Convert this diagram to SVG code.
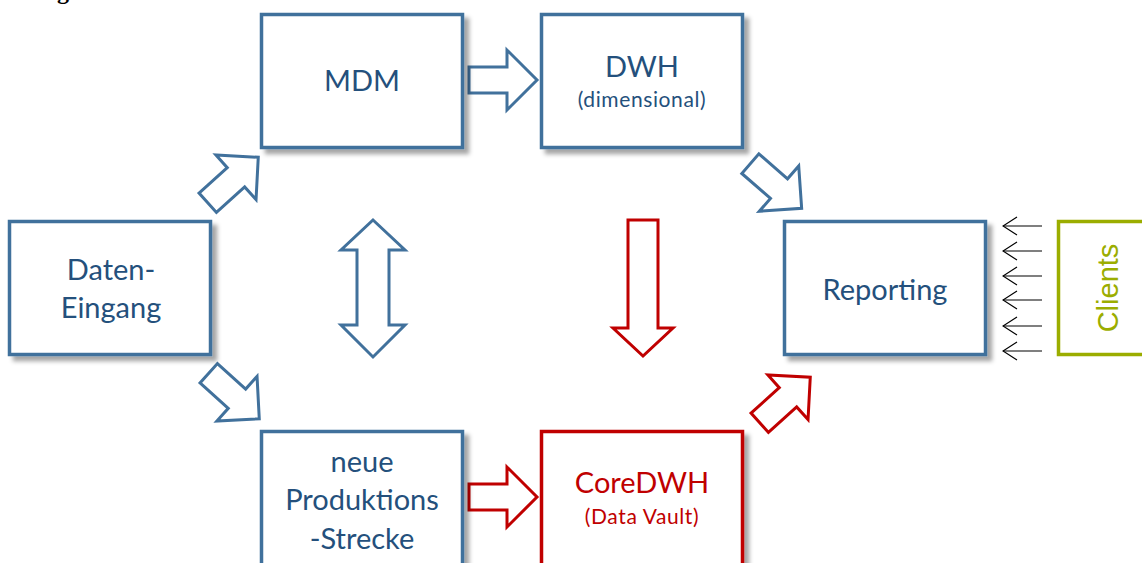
<svg xmlns="http://www.w3.org/2000/svg" width="1142" height="563" viewBox="0 0 1142 563">
  <defs>
    <filter id="shadow" x="-10%" y="-10%" width="130%" height="130%">
      <feDropShadow dx="5" dy="5" stdDeviation="2" flood-color="#000" flood-opacity="0.35"/>
    </filter>
    <path id="blockArrow" d="M-34,-13 H4 V-30 L34,0 L4,30 V13 H-34 Z"/>
    <marker id="openHead" viewBox="0 0 16 22" refX="1" refY="11" markerWidth="16" markerHeight="22" markerUnits="userSpaceOnUse" orient="auto">
      <path d="M15,2 L1,11 L15,20" fill="none" stroke="#000" stroke-width="1.2"/>
    </marker>
  </defs>
  <style>
    .box { fill: #fff; stroke: #41719c; stroke-width: 3.5; filter: url(#shadow); }
    .box.red { stroke: #c00000; }
    .green { fill: #fff; stroke: #9bad00; stroke-width: 3.5; }
    .lbl { font-family: Lato, "Open Sans", "Liberation Sans", sans-serif; font-size: 29px; fill: #24507c; text-anchor: middle; }
    .sub { font-size: 21px; letter-spacing: 0.6px; }
    .lbl.red { fill: #c00000; }
    .arr { fill: #fff; stroke: #41719c; stroke-width: 3; stroke-linejoin: miter; }
    .arr.red { stroke: #c00000; }
    .client { stroke: #000; stroke-width: 1.2; fill: none; marker-start: url(#openHead); }
  </style>

  <rect width="1142" height="563" fill="#fff"/>

  <!-- heading fragment at the top edge -->
  <text x="57" y="-1" font-family="'Liberation Serif', serif" font-weight="bold" font-size="24" fill="#000">g</text>

  <g id="connectors">
    <use href="#blockArrow" class="arr" transform="translate(233,180) rotate(-42)"/>
    <use href="#blockArrow" class="arr" transform="translate(234,396) rotate(42)"/>
    <use href="#blockArrow" class="arr" transform="translate(503,80)"/>
    <use href="#blockArrow" class="arr red" transform="translate(503,497)"/>
    <use href="#blockArrow" class="arr" transform="translate(776,186) rotate(41)"/>
    <use href="#blockArrow" class="arr red" transform="translate(785,400) rotate(-42)"/>
    <path class="arr" d="M373,220 L405,250 H389 V325 H405 L373,357 L341,325 H357 V250 H341 Z"/>
    <path class="arr red" d="M628,220 H658 V328 H673 L643,356 L613,328 H628 Z"/>
    <g id="client-requests">
      <line class="client" x1="1003" y1="226" x2="1042" y2="226"/>
      <line class="client" x1="1003" y1="251" x2="1042" y2="251"/>
      <line class="client" x1="1003" y1="276" x2="1042" y2="276"/>
      <line class="client" x1="1003" y1="300" x2="1042" y2="300"/>
      <line class="client" x1="1003" y1="326" x2="1042" y2="326"/>
      <line class="client" x1="1003" y1="351" x2="1042" y2="351"/>
    </g>
  </g>

  <g id="mdm">
    <rect class="box" x="261.5" y="14.5" width="201" height="133"/>
    <text class="lbl" x="362" y="91">MDM</text>
  </g>

  <g id="dwh">
    <rect class="box" x="541.5" y="14.5" width="201" height="133"/>
    <text class="lbl" x="642" y="77">DWH</text>
    <text class="lbl sub" x="642" y="107">(dimensional)</text>
  </g>

  <g id="daten-eingang">
    <rect class="box" x="9.5" y="221.5" width="201" height="133"/>
    <text class="lbl" x="111" y="280">Daten-</text>
    <text class="lbl" x="111" y="318">Eingang</text>
  </g>

  <g id="reporting">
    <rect class="box" x="784.5" y="221.5" width="201" height="133"/>
    <text class="lbl" x="885" y="300">Reporting</text>
  </g>

  <g id="produktionsstrecke">
    <rect class="box" x="261.5" y="431.5" width="201" height="140"/>
    <text class="lbl" x="362" y="472">neue</text>
    <text class="lbl" x="362" y="510">Produktions</text>
    <text class="lbl" x="362" y="549">-Strecke</text>
  </g>

  <g id="coredwh">
    <rect class="box red" x="541.5" y="431.5" width="201" height="140"/>
    <text class="lbl red" x="642" y="493">CoreDWH</text>
    <text class="lbl sub red" x="642" y="524">(Data Vault)</text>
  </g>

  <g id="clients">
    <rect class="green" x="1058.5" y="221.5" width="100" height="133"/>
    <text x="1118" y="288" transform="rotate(-90 1118 288)" font-family="'Liberation Sans', Arial, sans-serif" font-size="29" fill="#9bad00" text-anchor="middle">Clients</text>
  </g>
</svg>
